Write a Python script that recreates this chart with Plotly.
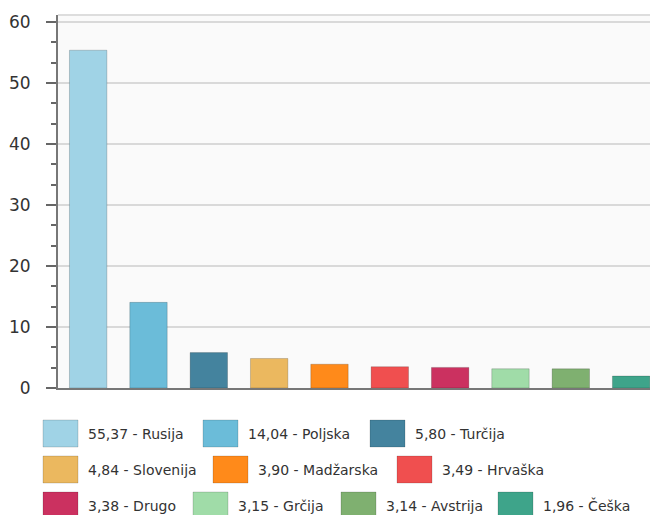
import plotly.graph_objects as go

countries = ["Rusija", "Poljska", "Turčija", "Slovenija", "Madžarska",
             "Hrvaška", "Drugo", "Grčija", "Avstrija", "Češka"]
values = [55.37, 14.04, 5.80, 4.84, 3.90, 3.49, 3.38, 3.15, 3.14, 1.96]
colors = ["#a0d3e6", "#6bbcd9", "#44839e", "#ebb85f", "#ff8a1a",
          "#f04f4f", "#cb3160", "#a0dca8", "#7fb070", "#3ea48a"]
y_ticks = [0, 10, 20, 30, 40, 50, 60]

# layout constants (pixels)
W, H = 650, 515
PL, PR, PT, PB = 58, 650, 15, 388
Y_MAX = 60 + (22 - PT) / ((PB - 22) / 60)
BAND = 60.33
X_MAX = -0.5 + (PR - PL) / BAND
# legend slots: (row, swatch left x)
LEGEND_SLOTS = [(0, 43), (0, 203), (0, 370),
                (1, 43), (1, 213), (1, 397),
                (2, 43), (2, 193), (2, 341), (2, 498)]
ROW_TOP = [420, 456, 492]
SW_W, SW_H = 35, 27

FONT = "DejaVu Sans"

fig = go.Figure()
fig.add_trace(go.Bar(
    x=list(range(len(countries))), y=values,
    marker=dict(color=colors, line=dict(color="rgba(0,0,0,0.18)", width=1)),
    width=0.62, hoverinfo="skip", showlegend=False,
))

def px2x(px):
    return (px - PL) / (PR - PL)

def px2y(py):
    return (PB - py) / (PB - PT)

shapes = []
annotations = []
# top border of plot
shapes.append(dict(type="line", xref="paper", yref="paper", x0=0, x1=1, y0=1, y1=1,
                   line=dict(color="#dddddd", width=2), layer="below"))
for i, (name, v, c) in enumerate(zip(countries, values, colors)):
    row, sx = LEGEND_SLOTS[i]
    top = ROW_TOP[row]
    shapes.append(dict(type="rect", xref="paper", yref="paper",
                       x0=px2x(sx), x1=px2x(sx + SW_W),
                       y0=px2y(top + SW_H), y1=px2y(top),
                       fillcolor=c, line=dict(color="rgba(0,0,0,0.15)", width=1)))
    label = f"{v:.2f}".replace(".", ",") + " - " + name
    annotations.append(dict(xref="paper", yref="paper", x=px2x(sx + 43),
                            y=px2y(top + SW_H / 2), text=label, showarrow=False,
                            xanchor="left", yanchor="middle",
                            font=dict(family=FONT, size=14, color="#333333")))

fig.update_layout(
    width=W, height=H,
    margin=dict(l=PL, r=W - PR, t=PT, b=H - PB, autoexpand=False),
    paper_bgcolor="white", plot_bgcolor="#fafafa",
    shapes=shapes, annotations=annotations,
    showlegend=False, bargap=0.38,
    xaxis=dict(range=[-0.5, X_MAX], showticklabels=False, ticks="",
               showgrid=False, zeroline=False, showline=True,
               linecolor="#777777", linewidth=2, fixedrange=True),
    yaxis=dict(range=[0, Y_MAX], tickvals=y_ticks, ticks="outside", ticklen=10,
               tickwidth=2, tickcolor="#666666", showline=True,
               linecolor="#777777", linewidth=2, showgrid=True,
               gridcolor="#d9d9d9", gridwidth=1.5, zeroline=False,
               ticklabelstandoff=12,
               tickfont=dict(family=FONT, size=17, color="#333333"),
               minor=dict(dtick=10 / 3, ticks="outside", ticklen=5,
                          tickwidth=2, tickcolor="#666666", showgrid=False),
               fixedrange=True),
)

fig.write_html(
    "out.html",
    config={"displayModeBar": False},
    post_script="document.body.style.margin='0';document.body.style.overflow='hidden';",
)
